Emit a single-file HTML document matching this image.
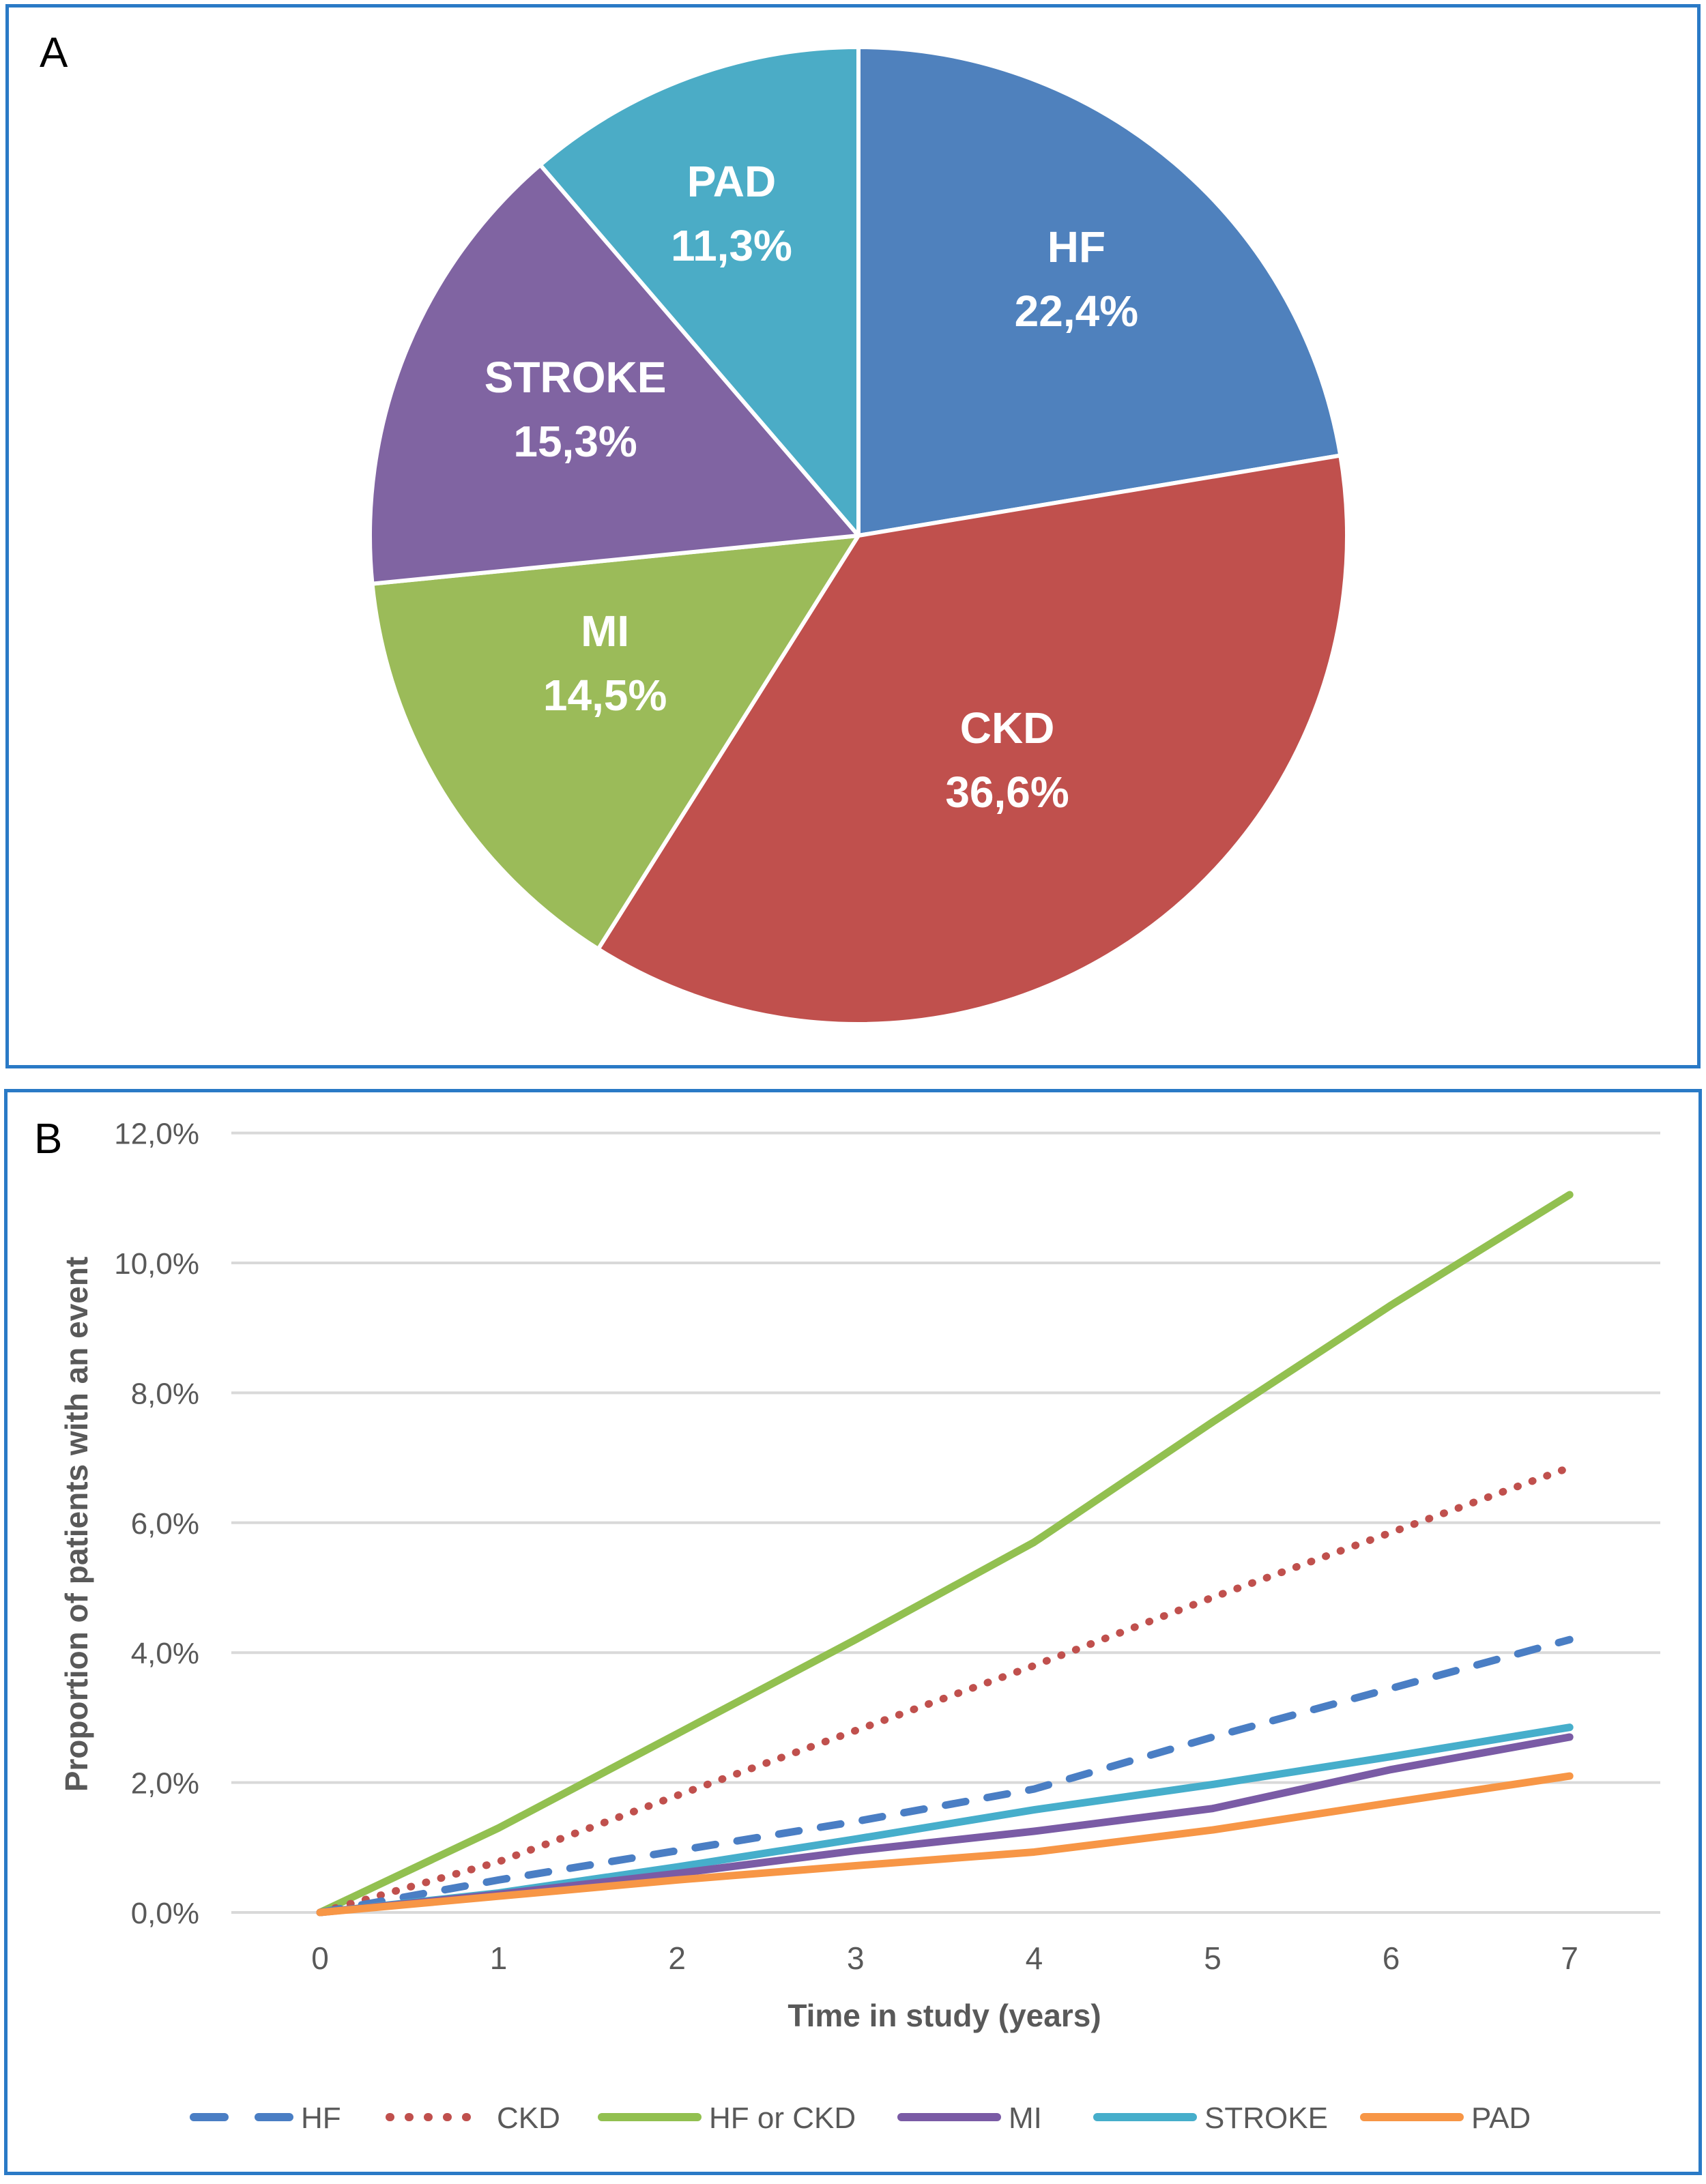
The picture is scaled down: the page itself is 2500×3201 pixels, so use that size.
<!DOCTYPE html>
<html><head><meta charset="utf-8"><style>
html,body{margin:0;padding:0;background:#fff;}
body{width:2500px;height:3201px;position:relative;overflow:hidden;font-family:"Liberation Sans",sans-serif;}
.panel{position:absolute;border:5px solid #2A7AC6;box-sizing:border-box;}
svg{position:absolute;left:0;top:0;}
</style></head><body>
<div class="panel" style="left:8px;top:6px;width:2484px;height:1560px;"></div>
<div class="panel" style="left:6px;top:1596px;width:2488px;height:1592px;"></div>
<svg id="pie" width="2500" height="1580"></svg>
<svg id="lc" width="2500" height="3201"></svg>
<script>
const NS="http://www.w3.org/2000/svg";
function mk(parent,tag,attrs,text){const e=document.createElementNS(NS,tag);for(const k in attrs)e.setAttribute(k,attrs[k]);if(text!==undefined)e.textContent=text;parent.appendChild(e);return e;}

// ---- Pie data ----
const pieLabels=["HF","CKD","MI","STROKE","PAD"];
const pieValues=[22.4,36.6,14.5,15.3,11.3];
const pieColors=["#4F81BD","#C0504D","#9BBB59","#8064A2","#4BACC6"];

const pie=document.getElementById('pie');
const A=mk(pie,'text',{x:58,y:98,'font-size':62,fill:'#000'},'A');


const cx=1258,cy=785,r=716;
// label layout: radius factor and angular nudge per slice (layout only)
const labelRad=[0.69,0.55,0.58,0.635,0.71];
const labelNudge=[0,0,0.09,0.04,-0.02];
const total=pieValues.reduce((a,b)=>a+b,0);
let ang=0;
pieValues.forEach((v,i)=>{
  const a0=ang/total*2*Math.PI, a1=(ang+v)/total*2*Math.PI; ang+=v;
  const x0=cx+r*Math.sin(a0),y0=cy-r*Math.cos(a0),x1=cx+r*Math.sin(a1),y1=cy-r*Math.cos(a1);
  const large=(a1-a0)>Math.PI?1:0;
  const p=mk(pie,'path',{d:`M${cx},${cy} L${x0},${y0} A${r},${r} 0 ${large} 1 ${x1},${y1} Z`,fill:pieColors[i],stroke:'#fff','stroke-width':6,'stroke-linejoin':'round'});
  
  
  const am=(a0+a1)/2+labelNudge[i], lr=r*labelRad[i];
  const lx=cx+lr*Math.sin(am), ly=cy-lr*Math.cos(am);
  const t=mk(pie,'text',{x:lx,y:ly-24,'text-anchor':'middle','font-size':64,'font-weight':'bold',fill:'#fff'},pieLabels[i]);
  
  
  const t2=mk(pie,'text',{x:lx,y:ly+70,'text-anchor':'middle','font-size':64,'font-weight':'bold',fill:'#fff'},pieValues[i].toFixed(1).replace('.',',')+'%');
  
  
});

// ---- Line chart data ----
const years=[0,1,2,3,4,5,6,7];
const yTicks=[0,2,4,6,8,10,12];
const seriesNames=["HF","CKD","HF or CKD","MI","STROKE","PAD"];
const hfVals=[0,0.5,0.95,1.4,1.9,2.7,3.45,4.2];
const ckdVals=[0,0.78,1.8,2.8,3.8,4.85,5.85,6.85];
const hfckdVals=[0,1.3,2.75,4.2,5.7,7.55,9.35,11.05];
const miVals=[0,0.28,0.6,0.95,1.25,1.6,2.2,2.7];
const strokeVals=[0,0.3,0.7,1.13,1.58,1.97,2.4,2.85];
const padVals=[0,0.25,0.5,0.72,0.93,1.27,1.69,2.1];
const seriesColors=["#4A7EC4","#C0504D","#92C050","#7A5BA5","#46AECB","#F79646"];

const lc=document.getElementById('lc');
const X=v=>469+v*261.6;
const Y=v=>2803-v*95.2;
const B=mk(lc,'text',{x:50,y:1690,'font-size':62,fill:'#000'},'B');


yTicks.forEach(t=>{
  const g=mk(lc,'line',{x1:339,x2:2433,y1:Y(t),y2:Y(t),stroke:'#D9D9D9','stroke-width':4});
  
  
  const l=mk(lc,'text',{x:292,y:Y(t)+16,'text-anchor':'end','font-size':44,fill:'#595959'},t.toFixed(1).replace('.',',')+'%');
  
  
});
years.forEach(yv=>{
  const l=mk(lc,'text',{x:X(yv),y:2886,'text-anchor':'middle','font-size':46,fill:'#595959'},String(yv));
  
  
});
const xt=mk(lc,'text',{x:1384,y:2970,'text-anchor':'middle','font-size':46,'font-weight':'bold',fill:'#595959'},'Time in study (years)');


const yt=mk(lc,'text',{x:0,y:0,'text-anchor':'middle','font-size':46,'font-weight':'bold',fill:'#595959',transform:'translate(128,2234) rotate(-90)'},'Proportion of patients with an event');



const allVals=[hfVals,ckdVals,hfckdVals,miVals,strokeVals,padVals];
const dashes=["30,32","1,22",null,null,null,null];
const drawOrder=[2,1,0,4,3,5];
drawOrder.forEach(i=>{
  const pts=allVals[i].map((v,k)=>X(years[k])+','+Y(v)).join(' ');
  const a={points:pts,fill:'none',stroke:seriesColors[i],'stroke-width':11,'stroke-linecap':'round','stroke-linejoin':'round'};
  if(dashes[i])a['stroke-dasharray']=dashes[i];
  const pl=mk(lc,'polyline',a);
  
  
});
// legend
const legX=[279,566,877,1316,1603,1994];
seriesNames.forEach((n,i)=>{
  const g=mk(lc,'g',{});
  
  
  const a={x1:legX[i]+5,x2:legX[i]+145,y1:3103,y2:3103,stroke:seriesColors[i],'stroke-width':12,'stroke-linecap':'round'};
  if(i===0)a['stroke-dasharray']='45,50';
  if(i===1)a['stroke-dasharray']='1,27';
  mk(g,'line',a);
  mk(g,'text',{x:legX[i]+162,y:3119,'font-size':44,fill:'#595959'},n);
});
</script>
</body></html>
